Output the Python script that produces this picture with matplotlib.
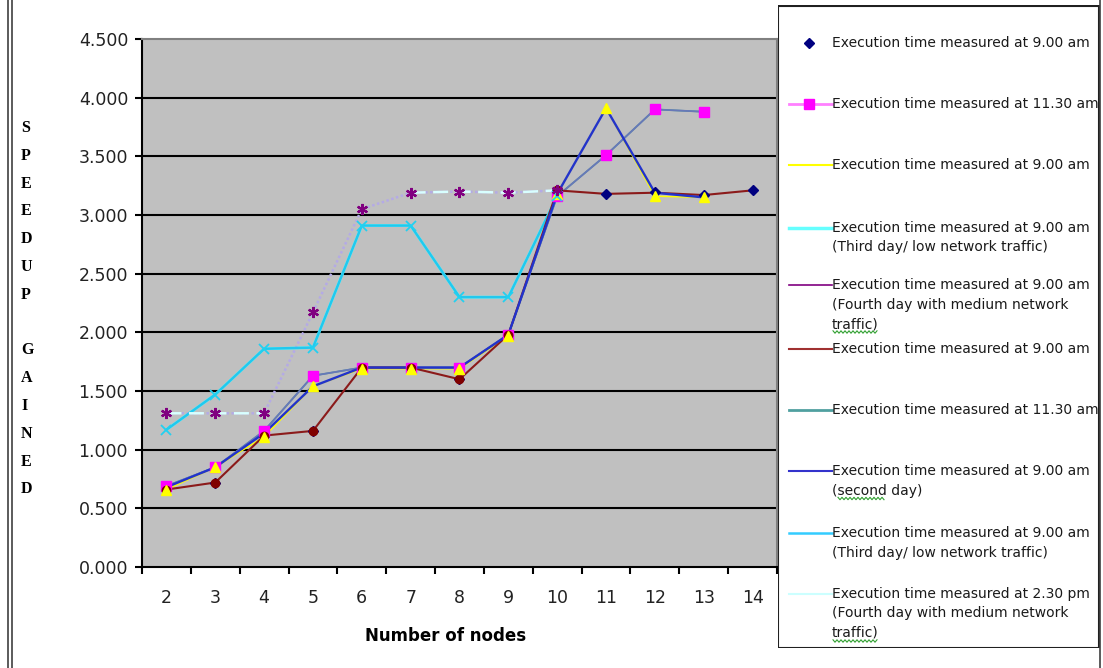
import matplotlib
matplotlib.use("Agg")
import matplotlib.pyplot as plt
from matplotlib.lines import Line2D
from matplotlib.patches import Rectangle
import numpy as np

nan = np.nan

# number of nodes on the x axis
nodes = [2, 3, 4, 5, 6, 7, 8, 9, 10, 11, 12, 13, 14]

# speedup values per run
am900_day1 = [0.66, 0.72, 1.12, 1.16, 1.70, 1.70, 1.60, 1.98, 3.21, 3.18, 3.20, 3.17, 3.21]
am1130_day1 = [0.69, 0.85, 1.16, 1.63, 1.70, 1.70, 1.70, 1.98, 3.16, 3.51, 3.90, 3.88, nan]
am900_b = [0.66, 0.85, 1.11, 1.54, 1.69, 1.69, 1.69, 1.97, 3.18, 3.91, 3.16, 3.15, nan]
am900_day3 = [1.17, 1.47, 1.86, 1.87, 2.91, 2.91, 2.30, 2.30, 3.16, nan, nan, nan, nan]
am900_day4 = [1.31, 1.31, 1.31, 2.17, 3.05, 3.19, 3.20, 3.19, 3.21, nan, nan, nan, nan]
am900_line = [0.66, 0.72, 1.12, 1.16, 1.70, 1.70, 1.60, 1.98, 3.21, 3.18, 3.19, 3.17, 3.21]
am1130_line = [0.69, 0.85, 1.16, 1.63, 1.70, 1.70, 1.70, 1.98, 3.16, 3.51, 3.90, 3.88, nan]
am900_day2 = [0.68, 0.85, 1.14, 1.54, 1.70, 1.70, 1.70, 1.98, 3.18, 3.91, 3.19, 3.15, nan]
am900_day3b = [1.17, 1.47, 1.86, 1.87, 2.91, 2.91, 2.30, 2.30, 3.16, nan, nan, nan, nan]
pm230_day4 = [1.31, 1.31, 1.31, nan, nan, 3.19, 3.20, 3.19, 3.21, nan, nan, nan, nan]

legend_labels = [
    ["Execution time measured at 9.00 am"],
    ["Execution time measured at 11.30 am"],
    ["Execution time measured at 9.00 am"],
    ["Execution time measured at 9.00 am", "(Third day/ low network traffic)"],
    ["Execution time measured at 9.00 am", "(Fourth day with medium network", "traffic)"],
    ["Execution time measured at 9.00 am"],
    ["Execution time measured at 11.30 am"],
    ["Execution time measured at 9.00 am", "(second day)"],
    ["Execution time measured at 9.00 am", "(Third day/ low network traffic)"],
    ["Execution time measured at 2.30 pm", "(Fourth day with medium network", "traffic)"],
]

W, H = 1103, 668
fig = plt.figure(figsize=(W / 100, H / 100), dpi=100)
ax = fig.add_axes([142 / W, 1 - 567 / H, 635 / W, 528 / H])
ax.set_facecolor("#c0c0c0")

x = np.arange(len(nodes))
arr = lambda v: np.array(v, dtype=float)

# lines first
ax.plot(x, arr(am900_b), color="#ffff00", lw=1.0, zorder=2)
ax.plot(x, arr(am1130_line), color="#4a9a9a", lw=1.2, zorder=2)
ax.plot(x, arr(am1130_day1), color="#6878b8", lw=1.3, zorder=2.1)
ax.plot(x, arr(am900_day3), color="#66ffff", lw=2.0, zorder=2)
ax.plot(x, arr(am900_day3b), color="#22c8ee", lw=1.8, zorder=2.1)
ax.plot(x, arr(am900_day4), color="#b4aae6", lw=1.8, ls=(0, (1, 1)), zorder=2)
ax.plot(x, arr(pm230_day4), color="#d8ffff", lw=1.8, ls=(0, (6, 3)), zorder=2.1)
ax.plot(x, arr(am900_line), color="#8b1a1a", lw=1.5, zorder=2.2)
ax.plot(x, arr(am900_day2), color="#2233cc", lw=1.7, zorder=2.3)

# markers on top
ax.plot(x, arr(am900_day1), ls="none", marker="D", ms=5, color="#000080", zorder=3)
ax.plot(x, arr(am1130_day1), ls="none", marker="s", ms=6.5, color="#ff00ff", zorder=3.1)
ax.plot(x, arr(am900_line), ls="none", marker="o", ms=6, color="#800000",
        markevery=list(range(9)), zorder=3.2)
ax.plot(x, arr(am900_b), ls="none", marker="^", ms=7, color="#ffff00", zorder=3.3)
ax.plot(x, arr(am900_day3b), ls="none", marker="x", ms=7, mew=1.3, color="#22d0f0", zorder=3.4)
ax.plot(x, arr(am900_day4), ls="none", marker=(6, 2, 0), ms=8, mew=1.6, color="#800080", zorder=3.5)

ax.set_xlim(-0.5, len(nodes) - 0.5)
ax.set_ylim(0, 4.5)
ax.set_yticks(np.arange(0, 4.51, 0.5))
ax.set_yticklabels(["%.3f" % v for v in np.arange(0, 4.51, 0.5)])
ax.set_xticks(x)
ax.set_xticklabels([str(n) for n in nodes])
ax.set_xticks(np.arange(-0.5, len(nodes), 1.0), minor=True)
ax.tick_params(axis="x", which="major", length=0, pad=16, labelsize=12.5, labelcolor="#222222")
ax.tick_params(axis="x", which="minor", length=5, width=1.5, direction="out")
ax.tick_params(axis="y", length=5, width=1.5, pad=5, labelsize=12.5, labelcolor="#222222")

for v in np.arange(0.5, 4.01, 0.5):
    ax.axhline(v, color="black", lw=1.5, zorder=1)

for side in ["left", "bottom"]:
    ax.spines[side].set_linewidth(1.5)
    ax.spines[side].set_color("black")
for side in ["top", "right"]:
    ax.spines[side].set_linewidth(1.5)
    ax.spines[side].set_color("#808080")

ax.set_xlabel("Number of nodes", fontsize=12, fontweight="bold")
ax.xaxis.set_label_coords((446 - 142) / 635, -60 / 528)

# stacked y-axis label
ylab = "SPEEDUP GAINED"
for i, ch in enumerate(ylab):
    if ch == " ":
        continue
    fig.text(21 / W, 1 - (128 + 27.8 * i) / H, ch, family="Liberation Serif",
             fontweight="bold", fontsize=11.5, ha="left", va="center")

# outer frame lines
for xp in (8, 12, 1100):
    fig.add_artist(Line2D([xp / W, xp / W], [0, 1], color="#404040", lw=1.2))

# legend box in pixel coordinates
lg = fig.add_axes([778 / W, 1 - 648 / H, (1100 - 778) / W, (648 - 5) / H])
lg.set_xlim(778, 1100)
lg.set_ylim(648, 5)
lg.axis("off")
lg.add_patch(Rectangle((778.5, 5.5), 321, 642, fill=False, ec="#202020", lw=1.5))

handles = [
    dict(color="none", marker="D", ms=5, mfc="#000080", mec="#000080"),
    dict(color="#ff80ff", lw=2.0, marker="s", ms=6.5, mfc="#ff00ff", mec="#ff00ff"),
    dict(color="#ffff00", lw=1.5),
    dict(color="#66ffff", lw=2.5),
    dict(color="#800080", lw=1.2),
    dict(color="#a03030", lw=1.5),
    dict(color="#50a0a0", lw=2.0),
    dict(color="#3333cc", lw=1.5),
    dict(color="#33ccff", lw=1.8),
    dict(color="#ccffff", lw=1.5),
]
first_y = [43, 104, 165, 228, 285, 349, 410, 471, 533, 594]
for hy, hs, lines in zip(first_y, handles, legend_labels):
    lg.plot([789, 832], [hy, hy], **{k: v for k, v in hs.items() if k not in ("marker", "ms", "mfc", "mec")})
    if "marker" in hs:
        lg.plot([809], [hy], ls="none", marker=hs["marker"], ms=hs["ms"], mfc=hs["mfc"], mec=hs["mec"])
    for j, t in enumerate(lines):
        lg.text(832, hy + 19.5 * j, t, fontsize=10, color="#1a1a1a", va="center",
                ha="left", clip_on=True)

# spell-check squiggles under some words
def squiggle(x0, x1, y):
    xs = np.arange(x0, x1, 2.0)
    ys = y + np.where(np.arange(len(xs)) % 2 == 0, -1.2, 1.2)
    lg.plot(xs, ys, color="#30a030", lw=0.8)

squiggle(833, 879, 285 + 39 + 8)
squiggle(838, 886, 471 + 19.5 + 8)
squiggle(833, 879, 594 + 39 + 8)

fig.savefig("out.png", dpi=100)
